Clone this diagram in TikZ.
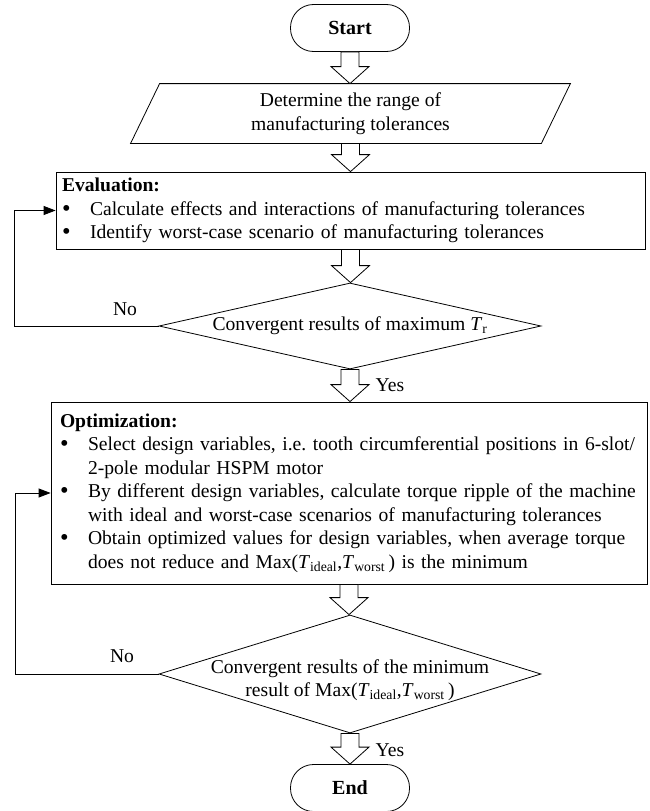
\documentclass[tikz,border=0pt]{standalone}
\usepackage{fontspec}
\usepackage{graphicx}
\setmainfont{Liberation Serif}
\usetikzlibrary{shapes.geometric,calc,arrows.meta}

% hollow block arrow from the bottom of #1 to the top of #2
\newcommand{\hollowarrow}[2]{%
	\draw[blockarrow] let \p1=(#1.center), \p2=(#1.south), \p3=(#2.north) in
		(\x1-9pt,\y2) -- (\x1+9pt,\y2) -- (\x1+9pt,\y3+17pt) -- (\x1+19pt,\y3+17pt)
		-- (\x1,\y3) -- (\x1-19pt,\y3+17pt) -- (\x1-9pt,\y3+17pt) -- cycle;}
% list bullet
\newcommand{\bul}{\raisebox{-1pt}{\scalebox{1.25}{\textbullet}}}

\begin{document}
\begin{tikzpicture}[x=1pt,y=-1pt,line width=0.8pt,
	every node/.style={font=\fontsize{19.6}{23.5}\selectfont},
	terminal/.style={draw,rounded corners=23pt,minimum width=119pt,minimum height=47pt,inner sep=0pt,font=\fontsize{20}{23.5}\selectfont\bfseries},
	inout/.style={minimum width=410pt,minimum height=59pt,inner sep=0pt,align=center},
	process/.style={draw,inner sep=0pt,align=left},
	decision/.style={draw,diamond,minimum width=382pt,inner sep=0pt},
	blockarrow/.style={draw,fill=white},
	feedback/.style={draw,-{Triangle[length=12pt,width=9pt]}}]

	\useasboundingbox (0,0) rectangle (649,811);

	% start and input
	\node[terminal] (start) at (350,28) {Start};
	\node[inout] (range) at (350.5,113.5) {Determine the range of\\manufacturing tolerances};
	\draw ($(range.north west)+(14.5,0)$) -- ($(range.north east)+(14.5,0)$)
		-- ($(range.south east)+(-14.5,0)$) -- ($(range.south west)+(-14.5,0)$) -- cycle;

	% evaluation
	\node[process,minimum width=589pt,minimum height=77pt,text width=577pt] (eval) at (350.5,210.5) {%
		\begin{tabular}{@{}p{28pt}@{}l@{}}
			\multicolumn{2}{@{}l@{}}{\textbf{Evaluation:}}\\
			\bul & Calculate effects and interactions of manufacturing tolerances\\
			\bul & Identify worst-case scenario of manufacturing tolerances
		\end{tabular}};
	\node[decision,minimum height=86pt,label={center:Convergent results of maximum \textit{T}\textsubscript{r}}] (conv1) at (350,326) {};

	% optimization
	\node[process,minimum width=596pt,minimum height=182pt,text width=578pt] (opt) at (349,493) {%
		\begin{tabular}{@{}p{28pt}@{}l@{}}
			\multicolumn{2}{@{}l@{}}{\textbf{Optimization:}}\\
			\bul & Select design variables, i.e.\ tooth circumferential positions in 6-slot/\\
			 & 2-pole modular HSPM motor\\
			\bul & By different design variables, calculate torque ripple of the machine\\
			 & with ideal and worst-case scenarios of manufacturing tolerances\\
			\bul & Obtain optimized values for design variables, when average torque\\
			 & does not reduce and Max(\textit{T}\textsubscript{ideal},\textit{T}\textsubscript{worst}\,) is the minimum
		\end{tabular}};
	\node[decision,minimum height=118pt,label={[align=center,yshift=-6pt]center:Convergent results of the minimum\\result of Max(\textit{T}\textsubscript{ideal},\textit{T}\textsubscript{worst}\,)}] (conv2) at (350,674) {};

	% end
	\node[terminal] (end) at (350,788) {End};

	% block arrows
	\hollowarrow{start}{range}
	\hollowarrow{range}{eval}
	\hollowarrow{eval}{conv1}
	\hollowarrow{conv1}{opt}
	\hollowarrow{opt}{conv2}
	\hollowarrow{conv2}{end}

	% feedback loops
	\draw[feedback] (conv1.west) -- ++(-144,0) |- (eval.west);
	\draw[feedback] (conv2.west) -- ++(-143,0) |- (opt.west);

	% labels
	\node (no1) at (125,309) {No};
	\node (yes1) at (390,385) {Yes};
	\node (no2) at (122,656) {No};
	\node (yes2) at (390,750) {Yes};

\end{tikzpicture}
\end{document}
